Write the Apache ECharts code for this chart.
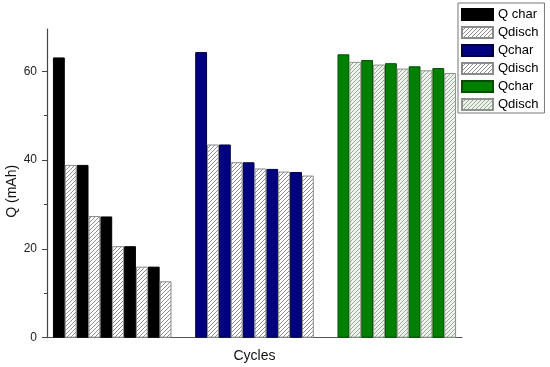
<!DOCTYPE html>
<html>
<head>
<meta charset="utf-8">
<script src="https://cdn.jsdelivr.net/npm/echarts@6/dist/echarts.min.js"></script>
<style>html,body{margin:0;padding:0;background:#fff}#c{width:550px;height:367px}</style>
</head>
<body>
<div id="c"></div>
<script>
// ---- data ----
const cycles = [1, 2, 3, 4, 5];
const seriesNames = ['Q char', 'Qdisch', 'Qchar', 'Qdisch', 'Qchar', 'Qdisch'];
const charge1 = [63.1, 38.9, 27.3, 20.6, 16.0];
const disch1  = [38.9, 27.4, 20.6, 16.0, 12.7];
const charge2 = [64.3, 43.5, 39.5, 38.0, 37.3];
const disch2  = [43.5, 39.5, 38.1, 37.4, 36.5];
const charge3 = [63.8, 62.5, 61.8, 61.1, 60.7];
const disch3  = [62.1, 61.5, 60.6, 60.2, 59.6];
const yTicks = [0, 20, 40, 60];
const yMinorTicks = [10, 30, 50];

// ---- slots: pad, 10 bars, 2 gap, 10 bars, 2 gap, 10 bars, pad ----
const groups = [[charge1, disch1], [charge2, disch2], [charge3, disch3]];
const categories = ['start'];
groups.forEach((g, gi) => {
  if (gi > 0) { categories.push('gap' + gi + 'a', 'gap' + gi + 'b'); }
  cycles.forEach(c => { categories.push('G' + (gi + 1) + ' C' + c + ' char', 'G' + (gi + 1) + ' C' + c + ' disch'); });
});
categories.push('end');

function slotData(gi, kind) {
  const arr = categories.map(() => '-');
  const start = 1 + gi * 12;
  groups[gi][kind].forEach((v, i) => { arr[start + 2 * i + kind] = v; });
  return arr;
}

function hatch(bg, fg) {
  const c = document.createElement('canvas');
  c.width = 4; c.height = 4;
  const g = c.getContext('2d');
  g.fillStyle = bg; g.fillRect(0, 0, 4, 4);
  g.strokeStyle = fg; g.lineWidth = 1;
  g.beginPath();
  g.moveTo(0, 4); g.lineTo(4, 0);
  g.moveTo(-1, 1); g.lineTo(1, -1);
  g.moveTo(3, 5); g.lineTo(5, 3);
  g.stroke();
  return { image: c, repeat: 'repeat' };
}

const styles = [
  { color: '#000000', borderColor: '#000000' },
  { color: hatch('#ffffff', '#8e8e8e'), borderColor: '#8a8a8a' },
  { color: '#000080', borderColor: '#000040' },
  { color: hatch('#ffffff', '#8e8e8e'), borderColor: '#8a8a8a' },
  { color: '#008000', borderColor: '#004d00' },
  { color: hatch('#eef4ec', '#98a896'), borderColor: '#8a948a' }
];

const series = seriesNames.map((n, k) => ({
  name: n + '#' + k,
  type: 'bar',
  data: slotData(Math.floor(k / 2), k % 2),
  barWidth: '100%',
  barGap: '-100%',
  itemStyle: Object.assign({ borderWidth: 1 }, styles[k]),
  emphasis: { disabled: true }
}));

const chart = echarts.init(document.getElementById('c'));
chart.setOption({
  animation: false,
  backgroundColor: '#fff',
  textStyle: { fontFamily: 'Liberation Sans, Arial, sans-serif' },
  grid: { left: 47, top: 29, right: 88, bottom: 29.3, containLabel: false, outerBoundsMode: 'none' },
  legend: {
    orient: 'vertical', left: 458, top: 3,
    icon: 'rect',
    itemWidth: 31, itemHeight: 11, itemGap: 5,
    padding: [5, 6, 2, 3],
    borderColor: '#777', borderWidth: 1,
    textStyle: { fontSize: 13, color: '#000', fontFamily: 'Liberation Sans, Arial, sans-serif' },
    formatter: name => name.split('#')[0],
    selectedMode: false
  },
  xAxis: {
    type: 'category', data: categories, boundaryGap: false,
    name: 'Cycles', nameLocation: 'middle', nameGap: 11, nameMoveOverlap: false,
    nameTextStyle: { fontSize: 14, color: '#111' },
    axisLine: { lineStyle: { color: '#555', width: 1.2 } },
    axisTick: { show: false }, axisLabel: { show: false }, splitLine: { show: false }
  },
  yAxis: [{
    type: 'value', min: 0, max: 69.5, interval: 20,
    name: 'Q (mAh)', nameLocation: 'middle', nameGap: 28, nameMoveOverlap: false,
    nameTextStyle: { fontSize: 14, color: '#111', padding: [0, 16, 0, 0] },
    axisLine: { show: true, lineStyle: { color: '#444', width: 1.2 } },
    axisTick: { show: true, length: 5, customValues: yTicks, lineStyle: { color: '#444' } },
    axisLabel: { customValues: yTicks, fontSize: 12, color: '#222', margin: 10 },
    splitLine: { show: false }
  }, {
    type: 'value', min: 0, max: 69.5, position: 'left', offset: 0,
    axisLine: { show: false },
    axisTick: { show: true, length: 3, customValues: yMinorTicks, lineStyle: { color: '#444' } },
    axisLabel: { show: false },
    splitLine: { show: false }
  }],
  series: series
});
</script>
</body>
</html>
